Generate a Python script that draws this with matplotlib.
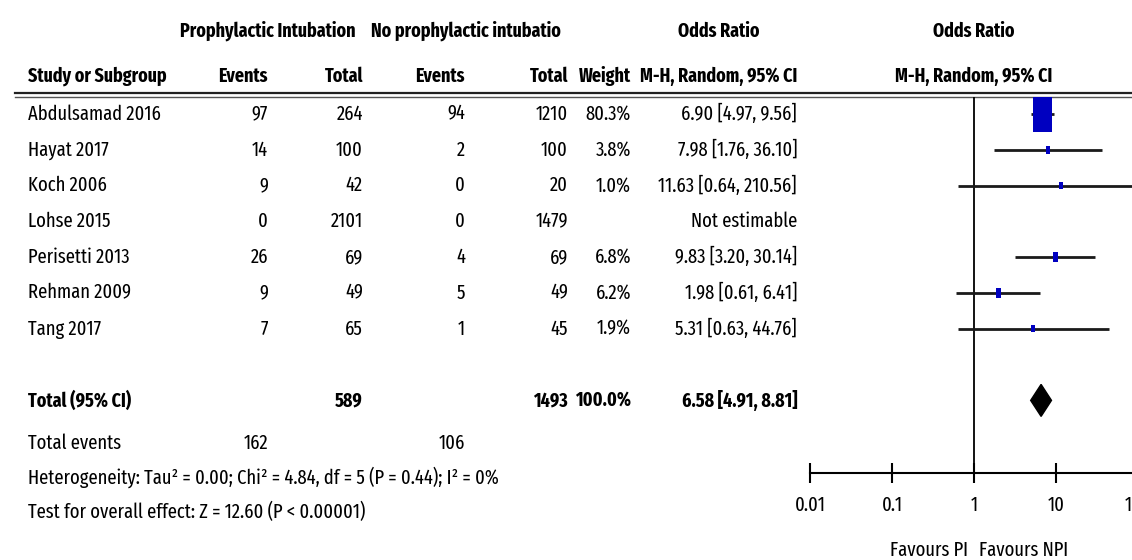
"""
Forest plot: prophylactic intubation vs no prophylactic intubation
"""
import numpy as np
import matplotlib
matplotlib.use('Agg')
import matplotlib.pyplot as plt
from matplotlib.patches import Rectangle, Polygon

plt.rcParams['font.family'] = ['Fira Sans Extra Condensed', 'Fira Sans Condensed',
                               'Liberation Sans', 'DejaVu Sans']
plt.rcParams['font.size'] = 14.5

studies = ["Abdulsamad 2016", "Hayat 2017", "Koch 2006", "Lohse 2015",
           "Perisetti 2013", "Rehman 2009", "Tang 2017"]
pi_events = [97, 14, 9, 0, 26, 9, 7]
pi_total = [264, 100, 42, 2101, 69, 49, 65]
npi_events = [94, 2, 0, 0, 4, 5, 1]
npi_total = [1210, 100, 20, 1479, 69, 49, 45]
weights = [80.3, 3.8, 1.0, None, 6.8, 6.2, 1.9]
odds = [6.90, 7.98, 11.63, None, 9.83, 1.98, 5.31]
ci_low = [4.97, 1.76, 0.64, None, 3.20, 0.61, 0.63]
ci_high = [9.56, 36.10, 210.56, None, 30.14, 6.41, 44.76]

total_pi, total_npi = 589, 1493
events_pi, events_npi = 162, 106
total_or, total_low, total_high = 6.58, 4.91, 8.81
heterogeneity = "Heterogeneity: Tau² = 0.00; Chi² = 4.84, df = 5 (P = 0.44); I² = 0%"
overall = "Test for overall effect: Z = 12.60 (P < 0.00001)"

xticks = [0.01, 0.1, 1, 10, 100]
xticklabels = ["0.01", "0.1", "1", "10", "100"]

W, H = 1132, 560
row0, step = 114.0, 35.8      # pixel y of first row, pixels per row
def py(p):
    return (p - row0) / step

fig = plt.figure(figsize=(W / 100, H / 100), dpi=100)

# table axes: x in pixels, y in rows
tab = fig.add_axes([0, 0, 1, 1])
tab.set_xlim(0, W)
tab.set_ylim(py(H), py(0))
tab.axis('off')

# forest axes
ax = fig.add_axes([810 / W, (H - 473) / H, (1138 - 810) / W, (473 - 97) / H])
ax.set_xscale('log')
ax.set_xlim(0.01, 100)
ax.set_ylim(py(473), py(97))
for s in ['top', 'left', 'right']:
    ax.spines[s].set_visible(False)
ax.spines['bottom'].set_linewidth(1.5)
ax.set_yticks([])
ax.set_xticks(xticks)
ax.set_xticklabels(xticklabels)
ax.xaxis.set_minor_locator(matplotlib.ticker.NullLocator())
ax.tick_params(axis='x', direction='inout', length=14, width=1.5, pad=9, labelsize=14.5)
ax.axvline(1, color='black', lw=1.3)
ax.patch.set_alpha(0)

# headers
bold = dict(fontweight='bold', va='center', fontsize=14)
tab.text(268, py(31), "Prophylactic Intubation", ha='center', **bold)
tab.text(466, py(31), "No prophylactic intubatio", ha='center', **bold)
tab.text(719, py(31), "Odds Ratio", ha='center', **bold)
tab.text(974, py(31), "Odds Ratio", ha='center', **bold)
tab.text(28, py(76), "Study or Subgroup", ha='left', **bold)
for x, lab in zip([268, 363, 465, 568, 631, 797],
                  ["Events", "Total", "Events", "Total", "Weight", "M-H, Random, 95% CI"]):
    tab.text(x, py(76), lab, ha='right', **bold)
tab.text(974, py(76), "M-H, Random, 95% CI", ha='center', **bold)
tab.plot([15, W], [py(93.5), py(93.5)], color='#222222', lw=1.6)
tab.plot([15, W], [py(97), py(97)], color='#555555', lw=1.0)

# study rows
for i, name in enumerate(studies):
    tab.text(28, i, name, ha='left', va='center')
    tab.text(268, i, str(pi_events[i]), ha='right', va='center')
    tab.text(363, i, str(pi_total[i]), ha='right', va='center')
    tab.text(465, i, str(npi_events[i]), ha='right', va='center')
    tab.text(568, i, str(npi_total[i]), ha='right', va='center')
    if odds[i] is None:
        tab.text(797, i, "Not estimable", ha='right', va='center')
        continue
    tab.text(631, i, "%.1f%%" % weights[i], ha='right', va='center')
    tab.text(797, i, "%.2f [%.2f, %.2f]" % (odds[i], ci_low[i], ci_high[i]),
             ha='right', va='center')
    ax.hlines(i, ci_low[i], ci_high[i], color='#1a1a1a', lw=2.0, zorder=2)
    sc = np.sqrt(weights[i] / 80.3)
    wpx, hpx = max(19 * sc, 4), max(36 * sc, 7)
    half = 10 ** (wpx / 82 / 2)
    hh = hpx / step
    ax.add_patch(Rectangle((odds[i] / half, i - hh / 2), odds[i] * half - odds[i] / half, hh,
                           facecolor='#0000c0', edgecolor='none', zorder=3))

# total row
ti = 8
tab.text(28, ti, "Total (95% CI)", ha='left', **bold)
tab.text(363, ti, str(total_pi), ha='right', **bold)
tab.text(568, ti, str(total_npi), ha='right', **bold)
tab.text(631, ti, "100.0%", ha='right', **bold)
tab.text(797, ti, "%.2f [%.2f, %.2f]" % (total_or, total_low, total_high), ha='right', **bold)
hd = 16 / step
ax.add_patch(Polygon([(total_low, ti), (total_or, ti - hd), (total_high, ti), (total_or, ti + hd)],
                     closed=True, facecolor='black', edgecolor='black', zorder=3))

tab.text(28, py(443), "Total events", ha='left', va='center')
tab.text(268, py(443), str(events_pi), ha='right', va='center')
tab.text(465, py(443), str(events_npi), ha='right', va='center')
tab.text(28, py(477), heterogeneity, ha='left', va='center')
tab.text(28, py(512), overall, ha='left', va='center')

tab.text(968, py(550), "Favours PI", ha='right', va='center')
tab.text(979, py(550), "Favours NPI", ha='left', va='center')

fig.savefig('out.png', dpi=100)
